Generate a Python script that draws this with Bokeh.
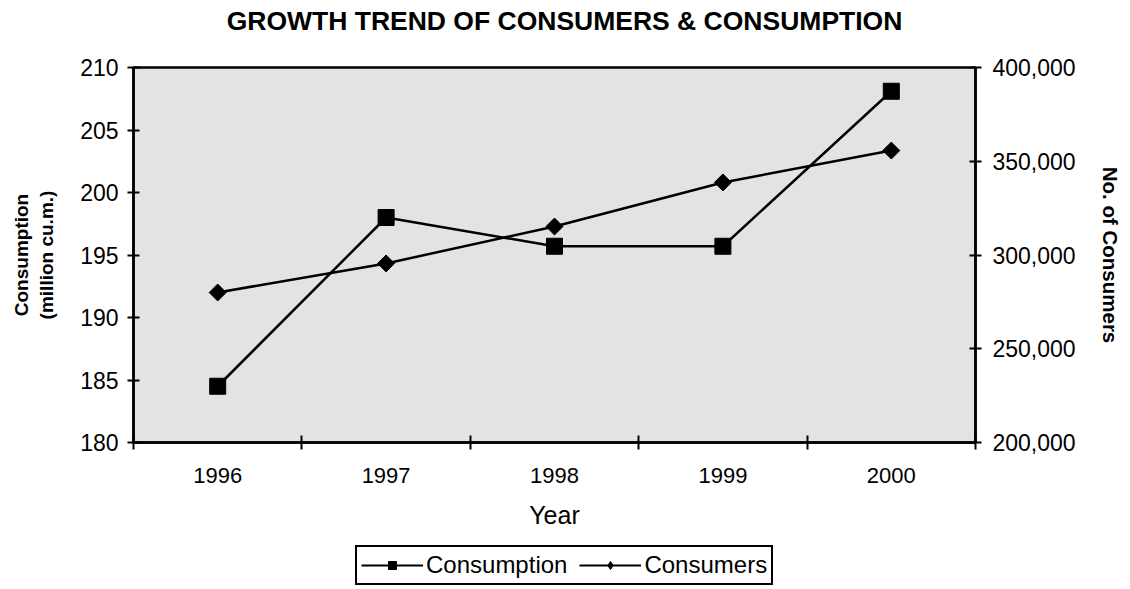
from bokeh.plotting import figure
from bokeh.layouts import column
from bokeh.models import (Range1d, LinearAxis, FixedTicker, NumeralTickFormatter,
                          Legend, LegendItem, Label)
from bokeh.embed import file_html
from bokeh.resources import INLINE

years = [1996, 1997, 1998, 1999, 2000]
consumption = [184.5, 198.0, 195.7, 195.7, 208.1]
consumers = [280000, 295500, 315200, 338700, 355700]
left_ticks = [180, 185, 190, 195, 200, 205, 210]
right_ticks = [200000, 250000, 300000, 350000, 400000]
year_bounds = [1995.5, 1996.5, 1997.5, 1998.5, 1999.5, 2000.5]
series_names = ["Consumption", "Consumers"]
chart_title = "GROWTH TREND OF CONSUMERS & CONSUMPTION"

FONT = "Liberation Sans"
TICK_SIZE = "23px"


def strip(height):
    f = figure(width=1114, height=height, output_backend="svg", toolbar_location=None,
               x_range=Range1d(0, 1), y_range=Range1d(0, 1),
               x_axis_location=None, y_axis_location=None, min_border=0)
    f.outline_line_color = None
    f.xgrid.visible = False
    f.ygrid.visible = False
    f.background_fill_color = "white"
    f.border_fill_color = "white"
    return f


# title strip
tf = strip(40)
tf.add_layout(Label(x=431, y=20, x_units="screen", y_units="screen",
                    text=chart_title, text_align="center", text_baseline="middle",
                    text_font=FONT, text_font_size="26.5px", text_font_style="bold",
                    text_color="black"))

p = figure(frame_width=842, frame_height=375, output_backend="svg", toolbar_location=None,
           x_range=Range1d(1995.5, 2000.5), y_range=Range1d(180, 210),
           min_border_left=133, min_border_right=139,
           min_border_top=27, min_border_bottom=100)

p.extra_y_ranges = {"cons": Range1d(200000, 400000)}

p.background_fill_color = "#e3e3e3"
p.border_fill_color = "white"
p.outline_line_color = "black"
p.outline_line_width = 2.5
p.xgrid.visible = False
p.ygrid.visible = False


def style_axis(ax, label_size, label_style, label_standoff, major_standoff):
    ax.axis_label_text_font = FONT
    ax.axis_label_text_font_size = label_size
    ax.axis_label_text_font_style = label_style
    ax.axis_label_text_color = "black"
    ax.axis_label_standoff = label_standoff
    ax.major_label_text_font = FONT
    ax.major_label_text_font_size = TICK_SIZE
    ax.major_label_text_color = "black"
    ax.major_label_standoff = major_standoff
    ax.axis_line_width = 2.5
    ax.axis_line_color = "black"


# x axis
xa = p.xaxis[0]
xa.ticker = FixedTicker(ticks=years, minor_ticks=year_bounds)
xa.axis_label = "Year"
style_axis(xa, "25px", "normal", 15, 18)
xa.major_label_text_font_size = "22px"
xa.major_tick_line_color = None
xa.minor_tick_in = 7
xa.minor_tick_out = 7
xa.minor_tick_line_width = 2
xa.minor_tick_line_color = "black"

# left axis
ya = p.yaxis[0]
ya.ticker = FixedTicker(ticks=left_ticks, minor_ticks=[])
ya.axis_label = "Consumption\n(million cu.m.)"
style_axis(ya, "19px", "bold", 20, 9)
ya.major_tick_in = 6
ya.major_tick_out = 6
ya.major_tick_line_width = 2
ya.major_tick_line_color = "black"

# right axis
ra = LinearAxis(y_range_name="cons")
ra.ticker = FixedTicker(ticks=right_ticks, minor_ticks=[])
ra.formatter = NumeralTickFormatter(format="0,0")
ra.axis_label = "No. of Consumers"
style_axis(ra, "20.5px", "bold", 20, 11)
ra.major_tick_in = 6
ra.major_tick_out = 6
ra.major_tick_line_width = 2
ra.major_tick_line_color = "black"
p.add_layout(ra, "right")

p.line(years, consumption, line_color="black", line_width=2.5)
p.scatter(years, consumption, marker="square", size=16,
          fill_color="black", line_color="black")
p.line(years, consumers, line_color="black", line_width=2.5, y_range_name="cons")
p.scatter(years, consumers, marker="square", angle=0.785398, size=12,
          fill_color="black", line_color="black", y_range_name="cons")

# legend strip below the chart (legend-only proxy glyphs, kept off-canvas)
lf = strip(47)
off = [-5, -4]
g1l = lf.line(off, off, line_color="black", line_width=2)
g1m = lf.scatter(off, off, marker="square", size=13, fill_color="black", line_color="black")
g2l = lf.line(off, off, line_color="black", line_width=2)
g2m = lf.scatter(off, off, marker="diamond", size=15,
                 fill_color="black", line_color="black")

legend = Legend(items=[LegendItem(label=series_names[0], renderers=[g1l, g1m]),
                       LegendItem(label=series_names[1], renderers=[g2l, g2m])],
                orientation="horizontal", location=(222, 4),
                border_line_color="black", border_line_width=2, border_line_alpha=1.0,
                background_fill_alpha=1.0,
                label_text_font=FONT, label_text_font_size="24px",
                label_text_color="black",
                glyph_width=62, glyph_height=20, spacing=12,
                padding=4, margin=0, label_standoff=3,
                label_height=26)
lf.add_layout(legend, "center")

open("out.html", "w").write(file_html(column(tf, p, lf), INLINE))
